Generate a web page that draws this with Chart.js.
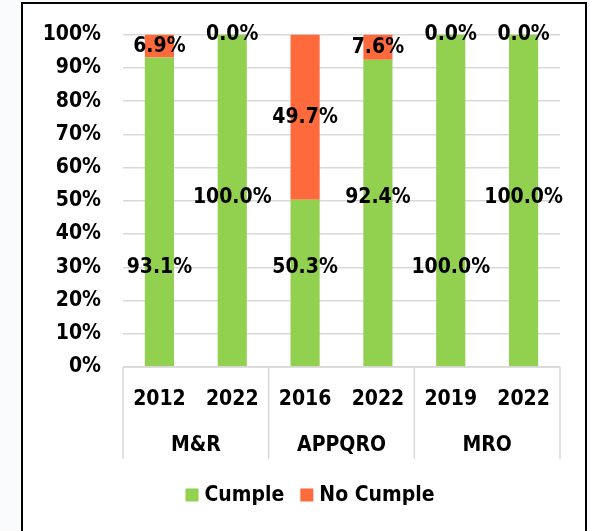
<!DOCTYPE html>
<html>
<head>
<meta charset="utf-8">
<script src="https://cdn.jsdelivr.net/npm/chart.js@4/dist/chart.umd.min.js"></script>
<style>
  html, body { margin: 0; padding: 0; background: #fafbfd; }
  #frame {
    position: absolute; left: 21px; top: 2px; width: 562px; height: 560px;
    border: 2px solid #000; background: #fff;
  }
  #wrap { position: absolute; left: 0; top: 0; width: 590px; height: 531px; }
</style>
</head>
<body>
<div id="frame"></div>
<div id="wrap"><canvas id="chart" width="590" height="531"></canvas></div>
<script>
const years = ["2012", "2022", "2016", "2022", "2019", "2022"];
const groups = ["M&R", "APPQRO", "MRO"];
const groupSizes = [2, 2, 2];
const cumple = [93.1, 100.0, 50.3, 92.4, 100.0, 100.0];
const noCumple = [6.9, 0.0, 49.7, 7.6, 0.0, 0.0];
const yTicks = [0, 10, 20, 30, 40, 50, 60, 70, 80, 90, 100];

const FONT = "'DejaVu Sans Condensed', 'DejaVu Sans', sans-serif";
const SIZE = 21;
const GREEN = "#92d050";
const ORANGE = "#ff6a3c";
const LINE = "#d9d9d9";

// value labels, group row, separators and legend
const extras = {
  id: "extras",
  afterDatasetsDraw(chart) {
    const ctx = chart.ctx;
    const x = chart.scales.x, y = chart.scales.y;
    ctx.save();
    ctx.font = "bold " + SIZE + "px " + FONT;
    ctx.fillStyle = "#000";
    ctx.textAlign = "center";
    ctx.textBaseline = "middle";

    cumple.forEach((v, i) => {
      const px = x.getPixelForValue(i);
      const ly = i % 2 === 0 ? 30 : 51;
      ctx.fillText(v.toFixed(1) + "%", px, y.getPixelForValue(ly));
      const n = noCumple[i];
      ctx.fillText(n.toFixed(1) + "%", px, y.getPixelForValue(v + n / 2));
    });

    // group separators and labels
    const step = (x.right - x.left) / years.length;
    ctx.strokeStyle = LINE;
    ctx.lineWidth = 1.5;
    ctx.beginPath();
    ctx.moveTo(x.left, y.bottom);
    ctx.lineTo(x.right, y.bottom);
    ctx.stroke();
    let start = 0;
    const bottom = y.bottom + 92;
    groupSizes.forEach((s, g) => {
      const x0 = x.left + start * step;
      const x1 = x0 + s * step;
      ctx.beginPath();
      ctx.moveTo(x0, y.bottom);
      ctx.lineTo(x0, bottom);
      ctx.stroke();
      if (g === groupSizes.length - 1) {
        ctx.beginPath();
        ctx.moveTo(x1, y.bottom);
        ctx.lineTo(x1, bottom);
        ctx.stroke();
      }
      ctx.fillText(groups[g], (x0 + x1) / 2, y.bottom + 79);
      start += s;
    });

    // legend
    const items = chart.data.datasets.map(d => ({ label: d.label, color: d.backgroundColor }));
    ctx.textAlign = "left";
    const box = 13, gapBox = 6, gapItem = 16;
    let total = 0;
    items.forEach((it, k) => {
      total += box + gapBox + ctx.measureText(it.label).width + (k ? gapItem : 0);
    });
    let lx = 310 - total / 2;
    const ly = 495;
    items.forEach((it, k) => {
      if (k) lx += gapItem;
      ctx.fillStyle = it.color;
      ctx.fillRect(lx, ly - box / 2, box, box);
      lx += box + gapBox;
      ctx.fillStyle = "#000";
      ctx.fillText(it.label, lx, ly + 1);
      lx += ctx.measureText(it.label).width;
    });
    ctx.restore();
  }
};

new Chart(document.getElementById("chart"), {
  type: "bar",
  data: {
    labels: years,
    datasets: [
      { label: "Cumple", data: cumple, backgroundColor: GREEN },
      { label: "No Cumple", data: noCumple, backgroundColor: ORANGE }
    ]
  },
  plugins: [extras],
  options: {
    responsive: false,
    animation: false,
    layout: { padding: { top: 33, right: 30, bottom: 0, left: 0 } },
    datasets: { bar: { categoryPercentage: 1, barPercentage: 0.4 } },
    plugins: { legend: { display: false }, tooltip: { enabled: false } },
    scales: {
      x: {
        stacked: true,
        grid: { display: false },
        border: { display: false },
        ticks: { color: "#000", font: { family: FONT, size: SIZE, weight: "bold" }, padding: 12, maxRotation: 0 },
        afterFit(s) { s.height = 531 - 367; }
      },
      y: {
        stacked: true,
        min: 0,
        max: 100,
        afterBuildTicks(s) { s.ticks = yTicks.map(v => ({ value: v })); },
        grid: { color: LINE, lineWidth: 1.5, drawTicks: false },
        border: { display: false },
        ticks: {
          color: "#000",
          font: { family: FONT, size: SIZE, weight: "bold" },
          padding: 22,
          callback: v => v + "%"
        },
        afterFit(s) { s.width = 123; }
      }
    }
  }
});
</script>
</body>
</html>
